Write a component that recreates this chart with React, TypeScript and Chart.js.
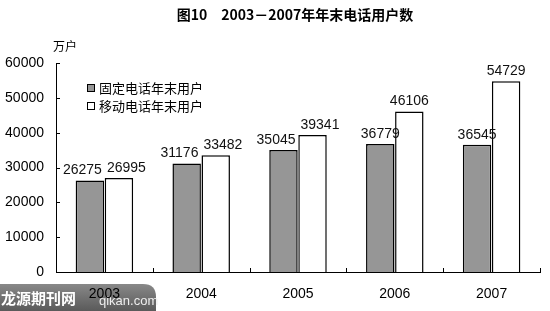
import React, { useEffect, useRef } from "react";
import { Chart, registerables } from "chart.js";

Chart.register(...registerables);

const categories = ["2003", "2004", "2005", "2006", "2007"];
const fixedUsers = [26275, 31176, 35045, 36779, 36545];
const mobileUsers = [26995, 33482, 39341, 46106, 54729];
const seriesNames = ["固定电话年末用户", "移动电话年末用户"];
const titleText = "图10　2003－2007年年末电话用户数";
const unitText = "万户";
const yTicks = [0, 10000, 20000, 30000, 40000, 50000, 60000];

const SANS = '"Liberation Sans", Arial, "Noto Sans CJK SC", sans-serif';

const decorPlugin = {
  id: "decor",
  beforeDraw(chart: any) {
    const ctx = chart.ctx;
    ctx.save();
    const g = ctx.createLinearGradient(0, 283, 0, 311);
    g.addColorStop(0, "#8a8a8a");
    g.addColorStop(1, "#5a5a5a");
    ctx.fillStyle = g;
    ctx.beginPath();
    ctx.moveTo(0, 284);
    ctx.lineTo(143, 284);
    ctx.quadraticCurveTo(156, 284, 156, 297);
    ctx.lineTo(156, 311);
    ctx.lineTo(0, 311);
    ctx.closePath();
    ctx.fill();
    ctx.fillStyle = "#ffffff";
    ctx.font = 'bold 15px "Noto Sans CJK SC", sans-serif';
    ctx.textBaseline = "middle";
    ctx.textAlign = "left";
    ctx.fillText("龙源期刊网", 1, 298);
    ctx.fillStyle = "#eeeeee";
    ctx.font = "13px " + SANS;
    ctx.fillText("qikan.com", 99, 301);
    ctx.restore();
  },
  afterDraw(chart: any) {
    const ctx = chart.ctx;
    const area = chart.chartArea;
    const ys = chart.scales.y;
    ctx.save();
    ctx.fillStyle = "#000";
    ctx.font = 'bold 14px "Noto Sans CJK SC", sans-serif';
    ctx.textAlign = "center";
    ctx.textBaseline = "middle";
    ctx.fillText(titleText, 295, 15);
    ctx.font = '12px "Noto Sans CJK SC", sans-serif';
    ctx.fillText(unitText, 65, 46);
    ctx.strokeStyle = "#000";
    ctx.lineWidth = 1;
    yTicks.forEach((v) => {
      const y = Math.round(ys.getPixelForValue(v)) + 0.5;
      ctx.beginPath();
      ctx.moveTo(area.left, y);
      ctx.lineTo(area.left + 4, y);
      ctx.stroke();
    });
    const n = categories.length;
    const w = (area.right - area.left) / n;
    for (let i = 1; i <= n; i++) {
      const x = Math.round(area.left + i * w) + 0.5;
      ctx.beginPath();
      ctx.moveTo(x, area.bottom);
      ctx.lineTo(x, area.bottom - 4);
      ctx.stroke();
    }
    // data labels with overlap avoidance
    ctx.font = "14px " + SANS;
    ctx.fillStyle = "#111";
    ctx.textAlign = "center";
    ctx.textBaseline = "bottom";
    const m0 = chart.getDatasetMeta(0).data;
    const m1 = chart.getDatasetMeta(1).data;
    const d0 = chart.data.datasets[0].data;
    const d1 = chart.data.datasets[1].data;
    for (let i = 0; i < n; i++) {
      const a = m0[i];
      const b = m1[i];
      const ta = String(d0[i]);
      const tb = String(d1[i]);
      const wa = ctx.measureText(ta).width;
      const wb = ctx.measureText(tb).width;
      let xa = a.x;
      let xb = b.x;
      const ya = a.y - 3;
      const yb = b.y - 3;
      const vOverlap = Math.abs(ya - yb) < 15;
      const need = wa / 2 + wb / 2 + 5;
      if (vOverlap && xb - xa < need) {
        const push = (need - (xb - xa)) / 2;
        xa -= push;
        xb += push;
      }
      ctx.fillText(ta, xa, ya);
      ctx.fillText(tb, xb, yb);
    }
    const legendY = [88, 106];
    const fills = ["#969696", "#ffffff"];
    legendY.forEach((ly, i) => {
      ctx.fillStyle = fills[i];
      ctx.fillRect(87, ly - 4, 8, 8);
      ctx.strokeStyle = "#000";
      ctx.lineWidth = 1;
      ctx.strokeRect(87.5, ly - 3.5, 7, 7);
      ctx.fillStyle = "#000";
      ctx.font = '13px "Noto Sans CJK SC", sans-serif';
      ctx.textAlign = "left";
      ctx.textBaseline = "middle";
      ctx.fillText(seriesNames[i], 99, ly);
    });
    ctx.restore();
  },
};

export default function App() {
  const ref = useRef<HTMLCanvasElement | null>(null);
  useEffect(() => {
    if (!ref.current) return;
    const chart = new Chart(ref.current, {
      type: "bar",
      data: {
        labels: categories,
        datasets: [
          {
            label: seriesNames[0],
            data: fixedUsers,
            backgroundColor: "#969696",
            borderColor: "#000",
            borderWidth: 1.5,
            categoryPercentage: 0.6,
            barPercentage: 0.98,
          },
          {
            label: seriesNames[1],
            data: mobileUsers,
            backgroundColor: "#ffffff",
            borderColor: "#000",
            borderWidth: 1.5,
            categoryPercentage: 0.6,
            barPercentage: 0.98,
          },
        ],
      },
      options: {
        animation: false,
        responsive: false,
        maintainAspectRatio: false,
        layout: { padding: { top: 63, right: 10, left: 0, bottom: 0 } },
        plugins: {
          legend: { display: false },
          title: { display: false },
          tooltip: { enabled: false },
        },
        scales: {
          x: {
            grid: { display: false, drawTicks: false },
            border: { display: true, color: "#000", width: 1 },
            ticks: {
              color: "#000",
              font: { family: SANS, size: 14 },
              padding: 14,
            },
            afterFit: (s: any) => {
              s.height = 39;
            },
          },
          y: {
            min: 0,
            max: 60000,
            grid: { display: false, drawTicks: false },
            border: { display: true, color: "#000", width: 1 },
            ticks: {
              stepSize: 10000,
              color: "#000",
              font: { family: SANS, size: 14 },
              padding: 12,
              callback: (v: any) => String(v),
            },
            afterFit: (s: any) => {
              s.width = 56;
            },
          },
        },
      },
      plugins: [decorPlugin],
    });
    return () => chart.destroy();
  }, []);
  return (
    <div style={{ position: "absolute", left: 0, top: 0, width: 550, height: 311, background: "#fff" }}>
      <canvas ref={ref} width={550} height={311} style={{ display: "block" }} />
    </div>
  );
}
